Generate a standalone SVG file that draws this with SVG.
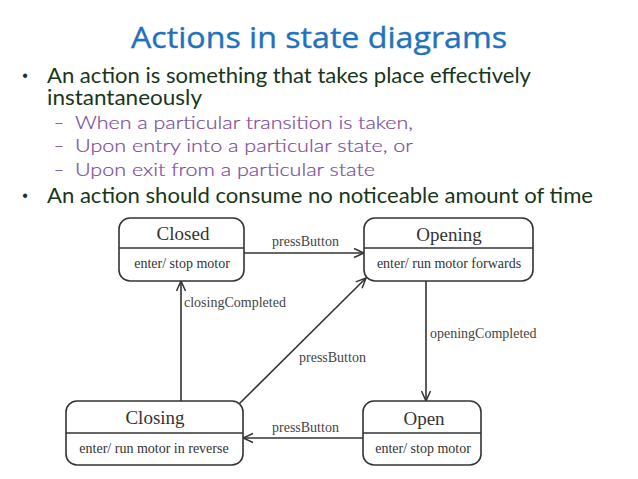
<svg xmlns="http://www.w3.org/2000/svg" width="638" height="479" viewBox="0 0 638 479">
<style>
.title{font-family:"Open Sans",sans-serif;font-size:30px;fill:#1f72bd;stroke:#1f72bd;stroke-width:0.4}
.b{font-family:"Lato","Open Sans","Liberation Sans",sans-serif;font-size:21px;fill:#17361a}
.dot{font-family:"Liberation Sans",sans-serif;font-size:16px;fill:#17361a;text-anchor:middle}
.s{font-family:"Lato","Liberation Sans",sans-serif;font-weight:300;font-size:17px;fill:#7a4b9c;stroke:#7a4b9c;stroke-width:0.2}
.box{fill:#fff;stroke:#333;stroke-width:1.6}
.div{stroke:#333;stroke-width:1.6}
.st{font-family:"Liberation Serif","Times New Roman",serif;font-size:19px;fill:#333;text-anchor:middle}
.act{font-family:"Liberation Serif","Times New Roman",serif;font-size:14px;fill:#333;text-anchor:middle}
.lbl{font-family:"Liberation Serif","Times New Roman",serif;font-size:14px;fill:#444}
.e{stroke:#333;stroke-width:1.6;fill:none;marker-end:url(#arr)}
</style>
<defs>
<marker id="arr" viewBox="0 0 12 12" refX="11" refY="6" markerWidth="12" markerHeight="12" markerUnits="userSpaceOnUse" orient="auto">
<path d="M1,1.5 L11,6 L1,10.5" fill="none" stroke="#333" stroke-width="1.5"/>
</marker>
</defs>
<rect width="638" height="479" fill="#fff"/>
<text class="title" x="319" y="48" text-anchor="middle" textLength="376" lengthAdjust="spacingAndGlyphs">Actions in state diagrams</text>
<text class="dot" x="25" y="81">•</text>
<text class="b" x="47" y="83" textLength="484" lengthAdjust="spacingAndGlyphs">An action is something that takes place effectively</text>
<text class="b" x="47" y="105" textLength="155" lengthAdjust="spacingAndGlyphs">instantaneously</text>
<text class="s" x="54" y="129">–</text>
<text class="s" x="75" y="129" textLength="338" lengthAdjust="spacingAndGlyphs">When a particular transition is taken,</text>
<text class="s" x="54" y="152">–</text>
<text class="s" x="75" y="152" textLength="338" lengthAdjust="spacingAndGlyphs">Upon entry into a particular state, or</text>
<text class="s" x="54" y="176">–</text>
<text class="s" x="75" y="176" textLength="300" lengthAdjust="spacingAndGlyphs">Upon exit from a particular state</text>
<text class="dot" x="25" y="201">•</text>
<text class="b" x="47" y="203" textLength="546" lengthAdjust="spacingAndGlyphs">An action should consume no noticeable amount of time</text>

<g id="connectors">
<line class="e" x1="244" y1="253" x2="364" y2="253"/>
<line class="e" x1="363" y1="438" x2="243" y2="438"/>
<line class="e" x1="181" y1="401" x2="181" y2="281"/>
<line class="e" x1="426" y1="281" x2="426" y2="401"/>
<line class="e" x1="238" y1="405" x2="366" y2="278"/>
<text class="lbl" x="272" y="246">pressButton</text>
<text class="lbl" x="272" y="432">pressButton</text>
<text class="lbl" x="184" y="307">closingCompleted</text>
<text class="lbl" x="430" y="338">openingCompleted</text>
<text class="lbl" x="299" y="362">pressButton</text>
</g>

<g id="closed">
<rect class="box" x="119" y="218" width="125" height="63" rx="11"/>
<line class="div" x1="119" y1="248" x2="244" y2="248"/>
<text class="st" x="183" y="240">Closed</text>
<text class="act" x="182" y="268">enter/ stop motor</text>
</g>
<g id="opening">
<rect class="box" x="364" y="218" width="169" height="63" rx="11"/>
<line class="div" x1="364" y1="248" x2="533" y2="248"/>
<text class="st" x="449" y="241">Opening</text>
<text class="act" x="449" y="268">enter/ run motor forwards</text>
</g>
<g id="closing">
<rect class="box" x="66" y="401" width="177" height="64" rx="11"/>
<line class="div" x1="66" y1="433" x2="243" y2="433"/>
<text class="st" x="155" y="424">Closing</text>
<text class="act" x="154" y="453">enter/ run motor in reverse</text>
</g>
<g id="open">
<rect class="box" x="363" y="401" width="118" height="64" rx="11"/>
<line class="div" x1="363" y1="433" x2="481" y2="433"/>
<text class="st" x="424" y="425">Open</text>
<text class="act" x="423" y="453">enter/ stop motor</text>
</g>
</svg>
